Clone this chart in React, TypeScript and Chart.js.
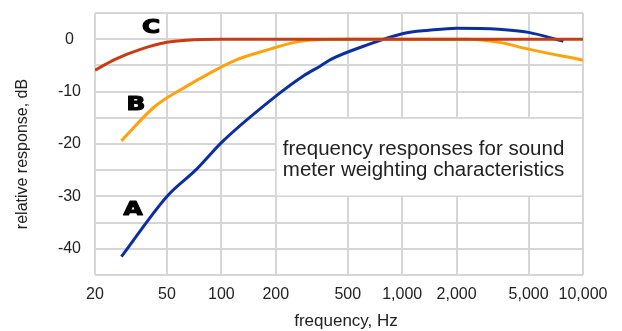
import React, { useEffect, useRef } from 'react';
import { Chart, registerables } from 'chart.js';

Chart.register(...registerables);

// ---- data ----
const xTickValues = [20, 50, 100, 200, 500, 1000, 2000, 5000, 10000];
const xTickLabels = ['20', '50', '100', '200', '500', '1,000', '2,000', '5,000', '10,000'];
const yTickLabels = [0, -10, -20, -30, -40];

const aFreq = [28, 50, 73, 101, 210, 284, 353, 406, 616, 1014, 1405, 2000, 3426, 5000, 7790];
const aDb = [-41.5, -30, -24.8, -19.6, -10.3, -7.0, -5.1, -3.8, -1.3, 1.1, 1.7, 2.1, 1.9, 1.3, -0.4];

const bFreq = [28, 43, 64, 84, 120, 186, 254, 306, 500, 1000, 2300, 3426, 5000, 10000];
const bDb = [-19.4, -12.8, -9.0, -6.7, -4.0, -1.9, -0.6, -0.2, 0, 0, 0, -0.6, -1.9, -4.0];

const cFreq = [20, 26, 36, 50, 64, 100, 1000, 10000];
const cDb = [-5.9, -3.8, -1.9, -0.6, -0.2, 0, 0, 0];

const seriesNames = ['A', 'B', 'C'];
const noteLines = ['frequency responses for sound', 'meter weighting characteristics'];
const xTitle = 'frequency, Hz';
const yTitle = 'relative response, dB';

const FONT = '"Liberation Sans", Arial, sans-serif';
const TEXT = '#222222';
const GRID = '#d6d6d6';

const toPoints = (xs: number[], ys: number[]) => xs.map((x, i) => ({ x, y: ys[i] }));

// label anchors in data space: [freq, dB]
const letterAnchors: Record<string, [number, number]> = {
  C: [40.8, 2.3],
  B: [33.7, -12.4],
  A: [32.5, -32.4],
};

const overlayPlugin = {
  id: 'overlay',
  beforeDatasetsDraw(chart: any) {
    const { ctx, chartArea, scales } = chart;
    const x = scales.x;
    const y = scales.y;
    const left = x.getPixelForValue(200) + 1;
    const right = chartArea.right - 1;
    const top = y.getPixelForValue(-15) + 1;
    const bottom = y.getPixelForValue(-30) - 1;
    ctx.save();
    ctx.fillStyle = '#ffffff';
    ctx.fillRect(left, top, right - left, bottom - top);
    ctx.fillStyle = TEXT;
    ctx.font = `20.5px ${FONT}`;
    ctx.textAlign = 'left';
    ctx.textBaseline = 'alphabetic';
    ctx.fillText(noteLines[0], left + 6, top + 36);
    ctx.fillText(noteLines[1], left + 6, top + 57);
    ctx.restore();
  },
  afterDraw(chart: any) {
    const { ctx, scales } = chart;
    const x = scales.x;
    const y = scales.y;
    ctx.save();
    // series letters
    ctx.fillStyle = '#000000';
    ctx.strokeStyle = '#000000';
    ctx.lineWidth = 1.2;
    ctx.lineJoin = 'round';
    ctx.font = 'bold 19px "DejaVu Sans", sans-serif';
    ctx.textAlign = 'center';
    ctx.textBaseline = 'middle';
    seriesNames.forEach((n) => {
      const [fx, fy] = letterAnchors[n];
      const px = x.getPixelForValue(fx);
      const py = y.getPixelForValue(fy);
      ctx.save();
      ctx.translate(px, py);
      ctx.scale(1.3, 1);
      ctx.fillText(n, 0, 1);
      ctx.strokeText(n, 0, 1);
      ctx.restore();
    });
    // axis titles
    ctx.fillStyle = TEXT;
    ctx.font = `17px ${FONT}`;
    ctx.textAlign = 'center';
    ctx.textBaseline = 'middle';
    ctx.fillText(xTitle, 346, 321);
    ctx.save();
    ctx.translate(23, 154);
    ctx.rotate(-Math.PI / 2);
    ctx.font = `16px ${FONT}`;
    ctx.fillText(yTitle, 0, 0);
    ctx.restore();
    ctx.restore();
  },
};

export default function App() {
  const ref = useRef<HTMLCanvasElement | null>(null);

  useEffect(() => {
    if (!ref.current) return;
    const chart = new Chart(ref.current, {
      type: 'line',
      data: {
        datasets: [
          {
            label: 'C',
            data: toPoints(cFreq, cDb),
            borderColor: '#c83c12',
            borderWidth: 3,
            pointRadius: 0,
            cubicInterpolationMode: 'monotone',
            fill: false,
          },
          {
            label: 'B',
            data: toPoints(bFreq, bDb),
            borderColor: '#ffa10a',
            borderWidth: 3,
            pointRadius: 0,
            cubicInterpolationMode: 'monotone',
            fill: false,
          },
          {
            label: 'A',
            data: toPoints(aFreq, aDb),
            borderColor: '#0a2fa5',
            borderWidth: 3,
            pointRadius: 0,
            cubicInterpolationMode: 'monotone',
            fill: false,
          },
        ],
      },
      options: {
        responsive: false,
        animation: false,
        events: [],
        layout: { padding: { top: 13, right: 39, left: 0, bottom: 0 } },
        plugins: {
          legend: { display: false },
          tooltip: { enabled: false },
          title: { display: false },
        },
        scales: {
          x: {
            type: 'logarithmic',
            min: 20,
            max: 10000,
            afterBuildTicks: (s: any) => {
              s.ticks = xTickValues.map((v) => ({ value: v }));
            },
            afterFit: (s: any) => {
              s.height = 56;
            },
            ticks: {
              autoSkip: false,
              maxRotation: 0,
              minRotation: 0,
              padding: 10,
              color: TEXT,
              font: { family: FONT, size: 16 },
              callback: (v: any) => {
                const i = xTickValues.indexOf(Number(v));
                return i >= 0 ? xTickLabels[i] : '';
              },
            },
            grid: { color: GRID, lineWidth: 2, drawTicks: false },
            border: { display: false },
          },
          y: {
            type: 'linear',
            min: -45,
            max: 5,
            afterFit: (s: any) => {
              s.width = 95;
              s.paddingTop = 0;
              s.paddingBottom = 0;
            },
            ticks: {
              stepSize: 5,
              padding: 14,
              crossAlign: 'center',
              color: TEXT,
              font: { family: FONT, size: 16 },
              callback: (v: any) => (yTickLabels.includes(Number(v)) ? String(v) : ''),
            },
            grid: { color: GRID, lineWidth: 2, drawTicks: false },
            border: { display: false },
          },
        },
      } as any,
      plugins: [overlayPlugin],
    });
    return () => chart.destroy();
  }, []);

  return (
    <div style={{ position: 'fixed', left: 0, top: 0, width: 622, height: 331, background: '#fff' }}>
      <canvas ref={ref} width={622} height={331} />
    </div>
  );
}
